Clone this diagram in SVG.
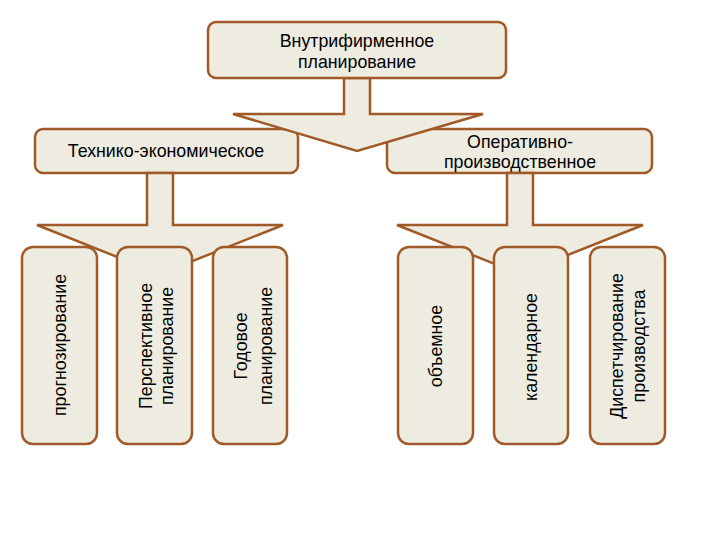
<svg xmlns="http://www.w3.org/2000/svg" width="720" height="540" viewBox="0 0 720 540">
<style>
.box{fill:#EEECE1;stroke:#A05A28;stroke-width:2.5}
.arr{fill:#EEECE1;stroke:#A05A28;stroke-width:2.5;stroke-linejoin:miter}
text{font-family:"Liberation Sans",Arial,sans-serif;font-size:17.8px;fill:#000;text-anchor:middle}
</style>
<rect width="720" height="540" fill="#fff"/>
<g id="tech-econ"><rect class="box" x="35" y="129" width="263" height="44" rx="8"/><text x="166" y="157">Технико-экономическое</text></g>
<g id="oper-prod"><rect class="box" x="387" y="129" width="265" height="44" rx="8"/><text x="520" y="148">Оперативно-</text><text x="520" y="168">производственное</text></g>
<g id="connectors">
<polygon class="arr" points="344,78 370,78 370,114 483,114 357,151 233,114 344,114"/>
<polygon class="arr" points="147,173 173,173 173,225 283,225 160,274 37,225 147,225"/>
<polygon class="arr" points="507,173 533,173 533,225 643,225 520,274 397,225 507,225"/>
</g>
<g id="forecast"><rect class="box" x="22" y="247" width="75" height="197" rx="11"/><text transform="translate(66,345) rotate(-90)">прогнозирование</text></g>
<g id="perspective"><rect class="box" x="117" y="247" width="75" height="197" rx="11"/><text transform="translate(152,346) rotate(-90)">Перспективное</text><text transform="translate(173,346) rotate(-90)">планирование</text></g>
<g id="annual"><rect class="box" x="213" y="247" width="74" height="197" rx="11"/><text transform="translate(247,346) rotate(-90)">Годовое</text><text transform="translate(272,346) rotate(-90)">планирование</text></g>
<g id="volume"><rect class="box" x="398" y="247" width="75" height="197" rx="11"/><text transform="translate(442,346) rotate(-90)">объемное</text></g>
<g id="calendar"><rect class="box" x="494" y="247" width="74" height="197" rx="11"/><text transform="translate(537,347) rotate(-90)">календарное</text></g>
<g id="dispatch"><rect class="box" x="590" y="247" width="75" height="197" rx="11"/><text transform="translate(623,346) rotate(-90)">Диспетчирование</text><text transform="translate(645,346) rotate(-90)">производства</text></g>
<g id="internal"><rect class="box" x="208" y="22" width="298" height="56" rx="8"/><text x="357" y="47">Внутрифирменное</text><text x="357" y="68">планирование</text></g>
</svg>
